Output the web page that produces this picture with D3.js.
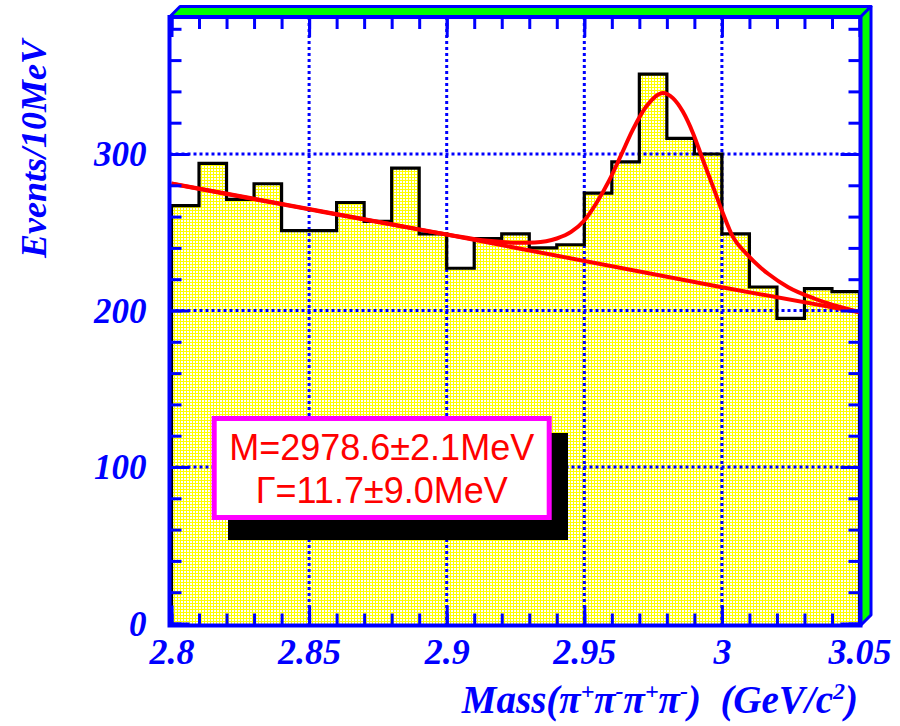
<!DOCTYPE html>
<html>
<head>
<meta charset="utf-8">
<script src="https://cdn.jsdelivr.net/npm/d3@7"></script>
<style>
  html, body { margin: 0; padding: 0; background: #ffffff; }
  svg { display: block; }
</style>
</head>
<body>
<svg id="chart" width="900" height="726"></svg>
<script>
// Histogram: lower edges of the 10 MeV mass bins (GeV/c^2) and event counts
const binStarts = [2.80, 2.81, 2.82, 2.83, 2.84, 2.85, 2.86, 2.87, 2.88, 2.89,
                   2.90, 2.91, 2.92, 2.93, 2.94, 2.95, 2.96, 2.97, 2.98, 2.99,
                   3.00, 3.01, 3.02, 3.03, 3.04];
const binWidth = 0.01;
const counts = [267, 294, 271, 281, 251, 251, 269, 257, 291, 249,
                227, 246, 249, 240, 242, 275, 295, 351, 310, 300,
                249, 215, 195, 214, 212];

// Fitted total curve (signal + background), sampled along the mass axis
const fitMass  = [2.800, 2.850, 2.880, 2.900, 2.915, 2.925, 2.932, 2.940, 2.9452, 2.950,
                  2.9543, 2.9591, 2.9634, 2.9676, 2.9725, 2.9786, 2.9822, 2.9858, 2.9895, 2.9931,
                  2.9968, 3.0004, 3.0040, 3.0089, 3.0138, 3.0168, 3.0241, 3.0338, 3.0500];
const fitTotal = [281.0, 264.6, 254.9, 248.6, 244.5, 243.3, 243.5, 246.0, 250.2, 257.5,
                  268.4, 283.3, 299.4, 315.4, 330.3, 339.0, 335.7, 327.1, 313.3, 296.2,
                  279.0, 262.0, 247.0, 236.3, 227.8, 223.5, 214.9, 207.5, 199.0];

// Fitted background
const bgMass   = [2.80, 2.90, 3.00, 3.05];
const bgValues = [281.2, 248.5, 214.8, 198.9];

// Axis ticks and labels
const xTickMajor  = [2.80, 2.85, 2.90, 2.95, 3.00, 3.05];
const xTickLabels = ["2.8", "2.85", "2.9", "2.95", "3", "3.05"];
const yTickMajor  = [0, 100, 200, 300];
const yTickLabels = ["0", "100", "200", "300"];
const xGridValues = [2.85, 2.90, 2.95, 3.00];
const yGridValues = [100, 200, 300];

// Fit result box
const fitResultLines = ["M=2978.6\u00B12.1MeV", "\u0393=11.7\u00B19.0MeV"];

const BLUE = "#0000ff", GREEN = "#00ff00", RED = "#ff0000", MAGENTA = "#ff00ff";

const svg = d3.select("#chart");

// Frame geometry
const fL = 169.5, fR = 860.5, fT = 17, fB = 625.5, depth = 10.5;

const x = d3.scaleLinear().domain([2.80, 3.05]).range([171.5, 859.5]);
const y = d3.scaleLinear().domain([0, 386]).range([623.5, 19.4]);

// Cross-hatched yellow fill
const defs = svg.append("defs");
const pat = defs.append("pattern")
  .attr("id", "hatch")
  .attr("patternUnits", "userSpaceOnUse")
  .attr("width", 3).attr("height", 3);
pat.append("rect").attr("width", 3).attr("height", 3).attr("fill", "#ffff00");
pat.append("rect").attr("x", 1).attr("y", 1).attr("width", 2).attr("height", 2)
  .attr("fill", "#ffffff").attr("shape-rendering", "crispEdges");

// 3D green rims along the top and right sides
svg.append("polygon")
  .attr("points", [[fL, fT], [fL + depth, fT - depth], [fR + depth, fT - depth], [fR, fT]].join(" "))
  .attr("fill", GREEN).attr("stroke", BLUE).attr("stroke-width", 3).attr("stroke-linejoin", "round");
svg.append("polygon")
  .attr("points", [[fR, fT], [fR + depth, fT - depth], [fR + depth, fB - depth], [fR, fB]].join(" "))
  .attr("fill", GREEN).attr("stroke", BLUE).attr("stroke-width", 3).attr("stroke-linejoin", "round");

// Histogram fill
const bins = binStarts.map((b, i) => ({ x0: b, x1: b + binWidth, v: counts[i] }));
svg.append("g").selectAll("rect").data(bins).join("rect")
  .attr("x", d => x(d.x0))
  .attr("width", d => x(d.x1) - x(d.x0) + 0.5)
  .attr("y", d => y(d.v))
  .attr("height", d => y(0) - y(d.v) + 2)
  .attr("fill", "url(#hatch)");

// Dotted grid
const grid = svg.append("g").attr("stroke", BLUE).attr("stroke-width", 3)
  .attr("stroke-dasharray", "3 3").attr("fill", "none");
grid.selectAll("line.gx").data(xGridValues).join("line").attr("class", "gx")
  .attr("x1", d => x(d)).attr("x2", d => x(d)).attr("y1", fT).attr("y2", fB);
grid.selectAll("line.gy").data(yGridValues).join("line").attr("class", "gy")
  .attr("x1", fL).attr("x2", fR).attr("y1", d => y(d)).attr("y2", d => y(d));

// Histogram outline
const stepPts = [[binStarts[0], 0]];
bins.forEach(d => { stepPts.push([d.x0, d.v]); stepPts.push([d.x1, d.v]); });
stepPts.push([bins[bins.length - 1].x1, 0]);
svg.append("path")
  .attr("d", d3.line().x(d => x(d[0])).y(d => y(d[1]))(stepPts))
  .attr("fill", "none").attr("stroke", "#000").attr("stroke-width", 3.2)
  .attr("stroke-linejoin", "miter");

// Fit curves
svg.append("path")
  .attr("d", d3.line().x(d => x(d[0])).y(d => y(d[1]))(bgMass.map((m, i) => [m, bgValues[i]])))
  .attr("fill", "none").attr("stroke", RED).attr("stroke-width", 4);
svg.append("path")
  .attr("d", d3.line().curve(d3.curveMonotoneX).x(d => x(d[0])).y(d => y(d[1]))(fitMass.map((m, i) => [m, fitTotal[i]])))
  .attr("fill", "none").attr("stroke", RED).attr("stroke-width", 4);

// Tick marks on all four sides, pointing inward
function styleTicks(g) {
  g.select(".domain").remove();
  g.selectAll("text").remove();
  g.selectAll(".tick line").attr("stroke", BLUE).attr("stroke-width", 3);
}
const xMinor = x.ticks(25);
const yMinor = d3.range(0, 381, 20);
svg.append("g").attr("transform", `translate(0,${fB})`)
  .call(d3.axisBottom(x).tickValues(xMinor).tickSize(-12)).call(styleTicks);
svg.append("g").attr("transform", `translate(0,${fB})`)
  .call(d3.axisBottom(x).tickValues(xTickMajor).tickSize(-20)).call(styleTicks);
svg.append("g").attr("transform", `translate(0,${fT})`)
  .call(d3.axisTop(x).tickValues(xMinor).tickSize(-12)).call(styleTicks);
svg.append("g").attr("transform", `translate(0,${fT})`)
  .call(d3.axisTop(x).tickValues(xTickMajor).tickSize(-20)).call(styleTicks);
svg.append("g").attr("transform", `translate(${fL},0)`)
  .call(d3.axisLeft(y).tickValues(yMinor).tickSize(-12)).call(styleTicks);
svg.append("g").attr("transform", `translate(${fL},0)`)
  .call(d3.axisLeft(y).tickValues(yTickMajor).tickSize(-20)).call(styleTicks);
svg.append("g").attr("transform", `translate(${fR},0)`)
  .call(d3.axisRight(y).tickValues(yMinor).tickSize(-12)).call(styleTicks);
svg.append("g").attr("transform", `translate(${fR},0)`)
  .call(d3.axisRight(y).tickValues(yTickMajor).tickSize(-20)).call(styleTicks);

// Frame
svg.append("rect")
  .attr("x", fL).attr("y", fT).attr("width", fR - fL).attr("height", fB - fT)
  .attr("fill", "none").attr("stroke", BLUE).attr("stroke-width", 4);

// Tick labels
const labelFont = "'Liberation Serif', 'Times New Roman', serif";
const xLab = svg.append("g").attr("transform", `translate(0,${fB})`)
  .call(d3.axisBottom(x).tickValues(xTickMajor).tickSize(0)
    .tickFormat((d, i) => xTickLabels[i]));
xLab.select(".domain").remove();
xLab.selectAll("text")
  .attr("y", 38).attr("dy", 0)
  .attr("fill", BLUE)
  .style("font-family", labelFont).style("font-size", "36px")
  .style("font-weight", "bold").style("font-style", "italic");

const yLab = svg.append("g").attr("transform", `translate(${fL},0)`)
  .call(d3.axisLeft(y).tickValues(yTickMajor).tickSize(0)
    .tickFormat((d, i) => yTickLabels[i]));
yLab.select(".domain").remove();
yLab.selectAll("text")
  .attr("x", -23).attr("dy", "0.33em")
  .attr("fill", BLUE)
  .style("font-family", labelFont).style("font-size", "35px")
  .style("font-weight", "bold").style("font-style", "italic");

// Axis titles
svg.append("text")
  .attr("transform", "translate(46,149) rotate(-90)")
  .attr("text-anchor", "middle")
  .attr("fill", BLUE)
  .style("font-family", labelFont).style("font-size", "36px")
  .style("font-weight", "bold").style("font-style", "italic")
  .text("Events/10MeV");

const xTitle = svg.append("text")
  .attr("x", 858).attr("y", 713)
  .attr("text-anchor", "end")
  .attr("fill", BLUE)
  .style("font-family", labelFont).style("font-size", "39px")
  .style("font-weight", "bold").style("font-style", "italic")
  .style("white-space", "pre");
const titleParts = [
  ["Mass(\u03C0", false], ["+", true], ["\u03C0", false], ["-", true],
  ["\u03C0", false], ["+", true], ["\u03C0", false], ["-", true],
  [")  (GeV/c", false], ["2", true], [")", false]
];
let raised = false;
titleParts.forEach(([t, sup]) => {
  const ts = xTitle.append("tspan").text(t);
  if (sup && !raised) { ts.attr("dy", -14).style("font-size", "24px"); raised = true; }
  else if (sup) { ts.style("font-size", "24px"); }
  else if (!sup && raised) { ts.attr("dy", 14); raised = false; }
});

// Fit result box with drop shadow
const bx = 214.2, by = 418.5, bw = 335, bh = 99;
svg.append("rect")
  .attr("x", 228).attr("y", 433).attr("width", 340).attr("height", 107)
  .attr("fill", "#000");
svg.append("rect")
  .attr("x", bx).attr("y", by).attr("width", bw).attr("height", bh)
  .attr("fill", "#fff").attr("stroke", MAGENTA).attr("stroke-width", 5);
svg.append("g").selectAll("text").data(fitResultLines).join("text")
  .attr("x", bx + bw / 2)
  .attr("y", (d, i) => 460 + i * 43)
  .attr("text-anchor", "middle")
  .attr("fill", RED)
  .style("font-family", "'Liberation Sans', Arial, sans-serif")
  .style("font-size", "36px")
  .text(d => d);
</script>
</body>
</html>
